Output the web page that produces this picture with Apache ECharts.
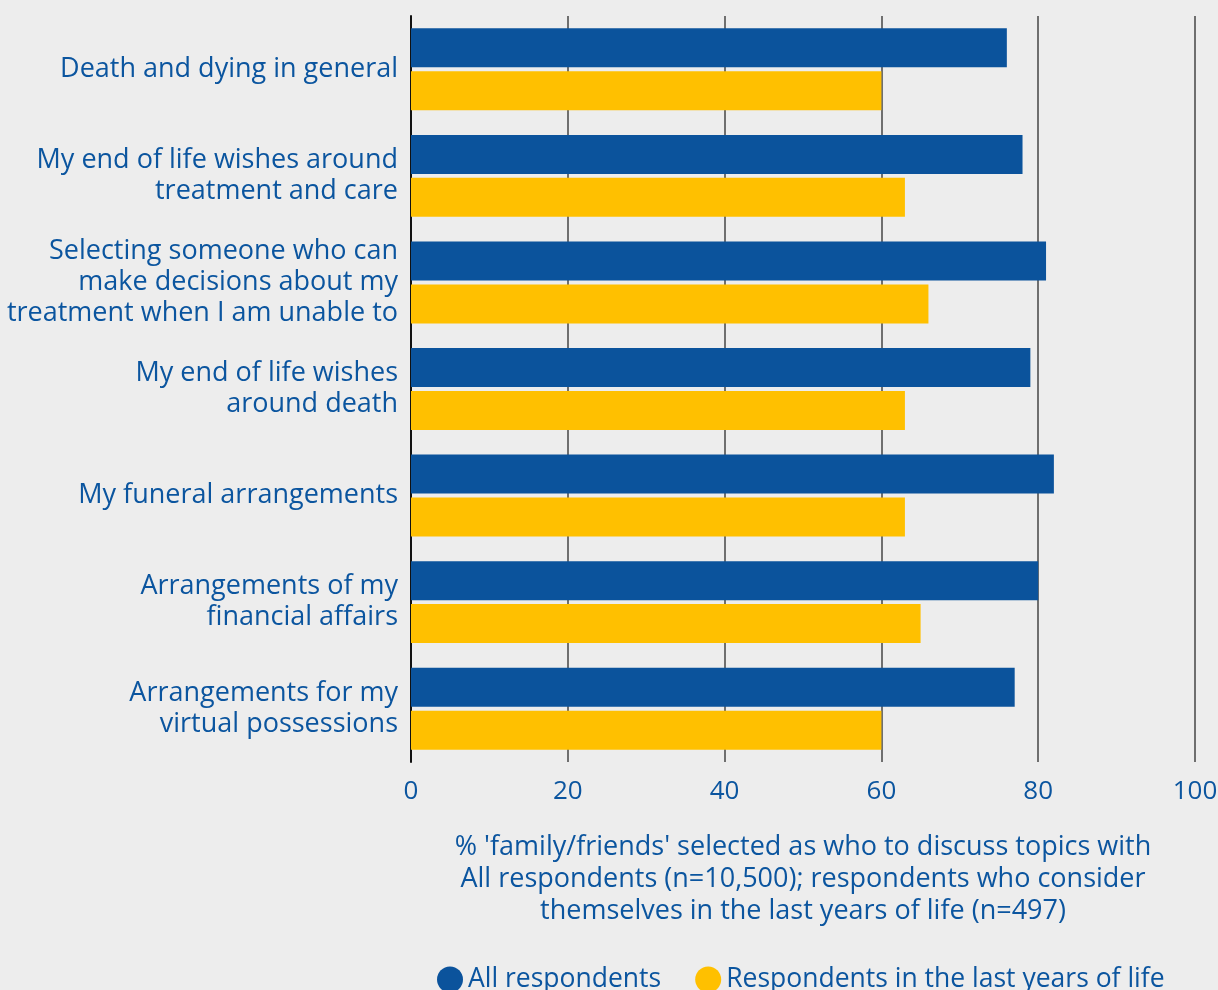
<!DOCTYPE html>
<html>
<head>
<meta charset="utf-8">
<script src="https://cdn.jsdelivr.net/npm/echarts@6/dist/echarts.min.js"></script>
<style>
  html,body{margin:0;padding:0;background:#ededed;}
  #chart{width:1218px;height:990px;}
</style>
</head>
<body>
<div id="chart"></div>
<script>
const topics = [
    'Death and dying in general',
    'My end of life wishes around\ntreatment and care',
    'Selecting someone who can\nmake decisions about my\ntreatment when I am unable to',
    'My end of life wishes\naround death',
    'My funeral arrangements',
    'Arrangements of my\nfinancial affairs',
    'Arrangements for my\nvirtual possessions'
]
const allRespondents = [76, 78, 81, 79, 82, 80, 77]
const lastYears = [60, 63, 66, 63, 63, 65, 60]
const seriesNames = ['All respondents', 'Respondents in the last years of life']

const textBlue = '#0b559f'
const font = '"Open Sans", sans-serif'

const chart = echarts.init(document.getElementById('chart'))

const option = {
    backgroundColor: '#ededed',
    textStyle: { fontFamily: font, color: textBlue },
    grid: { left: 411, right: 23, top: 16, bottom: 228, outerBoundsMode: 'none' },
    legend: {
        data: seriesNames,
        top: 961,
        left: 432,
        icon: 'circle',
        itemWidth: 26,
        itemHeight: 26,
        itemGap: 34,
        textStyle: { color: textBlue, fontSize: 26.5, fontFamily: font }
    },
    xAxis: {
        type: 'value',
        min: 0,
        max: 100,
        interval: 20,
        axisLine: { show: false },
        axisTick: { show: false },
        splitLine: { lineStyle: { color: '#444', width: 1.5 } },
        axisLabel: { color: textBlue, fontSize: 26, margin: 17, fontFamily: font },
        name: "% 'family/friends' selected as who to discuss topics with\nAll respondents (n=10,500); respondents who consider\nthemselves in the last years of life (n=497)",
        nameLocation: 'middle',
        nameGap: 69,
        nameTextStyle: { color: textBlue, fontSize: 27, lineHeight: 32, align: 'center', verticalAlign: 'top', fontFamily: font }
    },
    yAxis: {
        type: 'category',
        data: topics,
        inverse: true,
        axisLine: { show: true, lineStyle: { color: '#111', width: 2 } },
        axisTick: { show: false },
        axisLabel: { color: textBlue, fontSize: 27, lineHeight: 31, margin: 13, align: 'right', fontFamily: font }
    },
    series: [
        {
            name: seriesNames[0],
            type: 'bar',
            data: allRespondents,
            barWidth: 39,
            barGap: '10%',
            itemStyle: { color: '#0b539c' }
        },
        {
            name: seriesNames[1],
            type: 'bar',
            data: lastYears,
            barWidth: 39,
            itemStyle: { color: '#ffc000' }
        }
    ]
}

chart.setOption(option)
</script>
</body>
</html>
